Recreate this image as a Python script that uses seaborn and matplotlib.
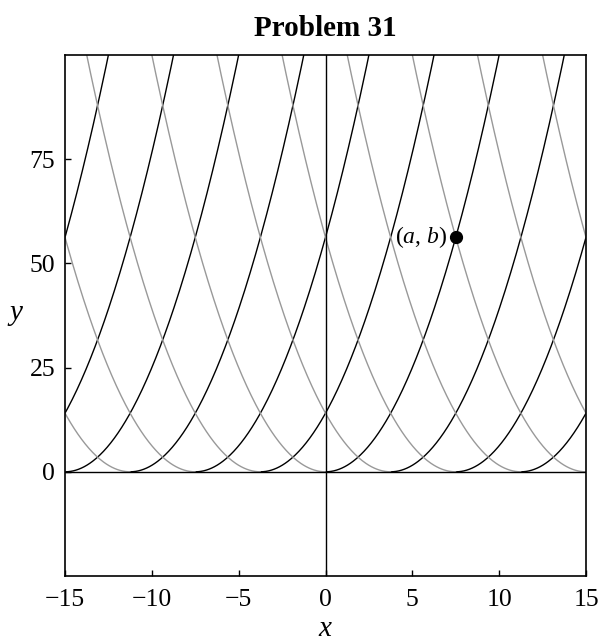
import numpy as np
import pandas as pd
import matplotlib
matplotlib.use("Agg")
import matplotlib.pyplot as plt
import seaborn as sns

# horizontal shifts c of the parabolas y = (x - c)^2
shifts = [-22.5, -18.75, -15.0, -11.25, -7.5, -3.75, 0.0,
          3.75, 7.5, 11.25, 15.0, 18.75, 22.5]
# marked point (a, b)
point_x = [7.5]
point_y = [56.25]
x_ticks = [-15, -10, -5, 0, 5, 10, 15]
y_ticks = [0, 25, 50, 75]

sns.set_theme(style="ticks")
plt.rcParams["font.family"] = ["Liberation Serif", "DejaVu Serif"]
plt.rcParams["mathtext.fontset"] = "custom"
plt.rcParams["mathtext.rm"] = "Liberation Serif"
plt.rcParams["mathtext.it"] = "Liberation Serif:italic"
plt.rcParams["text.color"] = "black"
plt.rcParams["axes.labelcolor"] = "black"

rows = []
for c in shifts:
    xr = np.linspace(c, c + 10.5, 200)
    rows.append(pd.DataFrame({"x": xr, "y": (xr - c) ** 2, "c": c, "branch": "right"}))
    xl = np.linspace(c - 10.5, c, 200)
    rows.append(pd.DataFrame({"x": xl, "y": (xl - c) ** 2, "c": c, "branch": "left"}))
df = pd.concat(rows, ignore_index=True)

fig = plt.figure(figsize=(6, 6.43), dpi=100)
ax = fig.add_axes([65 / 600, 67 / 643, 521 / 600, 521 / 643])

sns.lineplot(data=df, x="x", y="y", hue="branch", units="c", estimator=None,
             sort=False, palette={"right": "black", "left": "#999999"},
             linewidth=1.0, legend=False, ax=ax)
ax.axhline(0, color="black", lw=1.0)
ax.axvline(0, color="black", lw=1.0)
ax.plot(point_x, point_y, "o", color="black", markersize=8.5, zorder=5)
ax.text(point_x[0] - 0.45, point_y[0], r"$(a,\, b)$", ha="right", va="center",
        fontsize=17)

ax.set_xlim(-15, 15)
ax.set_ylim(-25, 100)
ax.set_xticks(x_ticks)
ax.set_yticks(y_ticks)
ax.set_xticklabels([str(t).replace("-", "\u2212") for t in x_ticks])
ax.tick_params(direction="in", length=4, width=1, labelsize=18.5, colors="black")
ax.tick_params(axis="x", pad=9)
ax.tick_params(axis="y", pad=7)
for s in ax.spines.values():
    s.set_visible(True)
    s.set_color("black")
    s.set_linewidth(1.2)

ax.set_xlabel("$x$", fontsize=21, labelpad=4)
ax.set_ylabel("$y$", fontsize=21, rotation=0, labelpad=10, va="center")
ax.set_title("Problem 31", fontsize=21, fontweight="bold", pad=14, color="black")

fig.savefig("out.png", dpi=100)
